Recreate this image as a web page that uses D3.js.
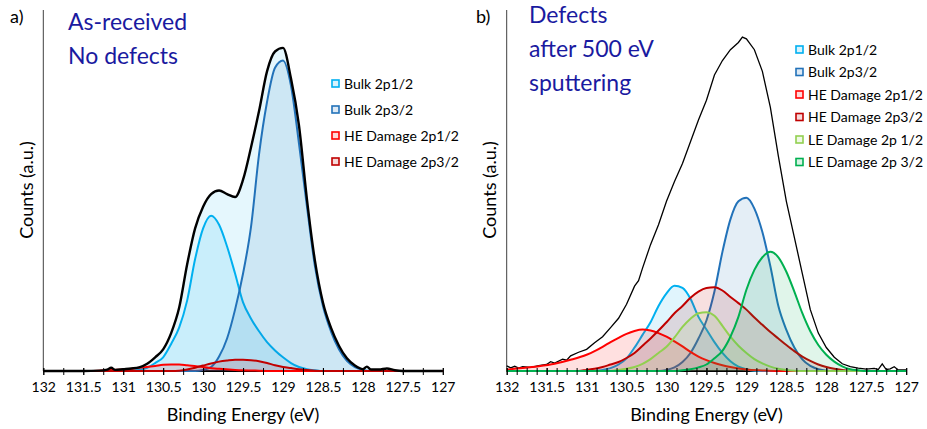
<!DOCTYPE html>
<html>
<head>
<meta charset="utf-8">
<script src="https://cdn.jsdelivr.net/npm/d3@7"></script>
<style>
  body { margin: 0; background: #fff; }
  svg { display: block; }
</style>
</head>
<body>
<div id="chart"></div>
<script>
// Binding energy ticks (eV), shared by both panels
const majorTicks = [132, 131.5, 131, 130.5, 130, 129.5, 129, 128.5, 128, 127.5, 127];
const tickLabels = ["132", "131.5", "131", "130.5", "130", "129.5", "129", "128.5", "128", "127.5", "127"];

// Panel a) As-received, [binding energy, counts (a.u., 0-100)]
const aEnvelope = [[132, 0], [131.5, 0], [131.3, 0.1], [131.2, 0.4], [131.15, 0.9], [131.1, 0.3], [131, 0.5], [130.9, 0.7], [130.8, 1.0], [130.7, 2], [130.6, 3.8], [130.5, 6], [130.4, 10.5], [130.3, 17.5], [130.2, 29.5], [130.1, 39.5], [130, 45.5], [129.9, 49], [129.8, 50], [129.7, 49], [129.6, 48.2], [129.5, 53], [129.4, 62], [129.3, 72], [129.2, 83], [129.1, 88.5], [129, 89.5], [128.9, 81], [128.8, 68], [128.7, 47.5], [128.6, 30.5], [128.5, 19], [128.4, 12], [128.3, 7], [128.2, 3.5], [128.1, 1.5], [128, 0.5], [127.95, 1.2], [127.9, 0.4], [127.8, 0.4], [127.7, 0.7], [127.6, 0.2], [127.5, 0], [127, 0]];
const aBulk12 = [[132, 0], [130.9, 0], [130.8, 0.4], [130.7, 0.9], [130.6, 2.2], [130.5, 3.8], [130.4, 7.5], [130.3, 12], [130.2, 19.5], [130.1, 31], [130, 39.5], [129.9, 43], [129.8, 40.5], [129.7, 34.5], [129.6, 27], [129.5, 19], [129.4, 14.5], [129.3, 11], [129.2, 8], [129.1, 5.7], [129, 3.8], [128.9, 2.2], [128.8, 1.1], [128.7, 0.5], [128.6, 0.2], [128.5, 0], [127, 0]];
const aBulk32 = [[132, 0], [130.1, 0], [130, 0.3], [129.9, 1.1], [129.8, 4], [129.7, 9], [129.6, 17], [129.5, 27], [129.4, 40], [129.3, 60], [129.2, 74.5], [129.1, 84], [129, 86], [128.9, 79], [128.8, 63], [128.7, 45.5], [128.6, 29], [128.5, 18], [128.4, 11], [128.3, 6], [128.2, 2.8], [128.1, 1.1], [128, 0.3], [127.9, 0], [127, 0]];
const aHE12 = [[132, 0], [131.4, 0], [131.2, 0.2], [131, 0.4], [130.8, 0.9], [130.6, 1.4], [130.5, 1.7], [130.4, 1.8], [130.3, 1.8], [130.2, 1.6], [130, 1.1], [129.8, 0.6], [129.6, 0.3], [129.3, 0.1], [129, 0], [127, 0]];
const aHE32 = [[132, 0], [130.4, 0], [130.3, 0.1], [130.2, 0.4], [130.1, 0.9], [130, 1.5], [129.9, 2.1], [129.8, 2.6], [129.7, 2.9], [129.6, 3.1], [129.5, 3.1], [129.4, 3.0], [129.3, 2.7], [129.2, 2.2], [129.1, 1.6], [129, 1.1], [128.9, 0.8], [128.8, 0.5], [128.7, 0.3], [128.6, 0.1], [128.5, 0], [127, 0]];

// Panel b) after 500 eV sputtering
const bEnvelope = [[132, 1.4], [131.95, 0.9], [131.9, 1.3], [131.85, 0.8], [131.8, 1.2], [131.7, 1.0], [131.6, 1.5], [131.5, 1.8], [131.45, 2.6], [131.4, 2.2], [131.3, 3.3], [131.25, 3.0], [131.2, 4.2], [131.1, 5.2], [131, 6], [130.9, 7.8], [130.8, 9.5], [130.7, 12], [130.6, 14.6], [130.5, 18.5], [130.4, 23.5], [130.35, 25], [130.3, 28.5], [130.2, 35], [130.1, 40.5], [130, 47], [129.9, 52.5], [129.8, 57.5], [129.7, 63.5], [129.6, 69.5], [129.5, 75], [129.4, 82], [129.3, 86], [129.2, 89], [129.1, 91], [129.05, 92.5], [129, 92], [128.9, 89], [128.8, 83], [128.7, 73], [128.6, 59.5], [128.5, 47], [128.4, 37], [128.3, 27], [128.2, 17], [128.1, 10.5], [128, 6.5], [127.9, 3.8], [127.8, 2], [127.7, 1.2], [127.6, 0.8], [127.5, 0.5], [127.4, 0.7], [127.35, 0.4], [127.3, 2], [127.25, 0.4], [127.2, 0.6], [127.15, 1.2], [127.1, 0.3], [127, 0.3]];
const bBulk12 = [[132, 0], [130.9, 0], [130.8, 0.3], [130.7, 0.8], [130.6, 1.8], [130.5, 3.5], [130.4, 6.5], [130.3, 10], [130.2, 13.5], [130.1, 18], [130, 21.5], [129.9, 23.6], [129.8, 23], [129.7, 20], [129.6, 15], [129.5, 11.5], [129.4, 8], [129.3, 5], [129.2, 2.7], [129.1, 1.2], [129, 0.5], [128.9, 0.1], [128.8, 0], [127, 0]];
const bBulk32 = [[132, 0], [130.1, 0], [130, 0.3], [129.9, 1], [129.8, 2.5], [129.7, 5], [129.6, 9], [129.5, 14], [129.4, 22], [129.3, 33], [129.2, 42], [129.1, 47], [129, 48], [128.9, 45], [128.8, 38.5], [128.7, 29], [128.6, 18], [128.5, 11.4], [128.4, 6.5], [128.3, 3.2], [128.2, 1.4], [128.1, 0.5], [128, 0.1], [127.9, 0], [127, 0]];
const bHE12 = [[132, 0.4], [131.8, 0.8], [131.6, 1.3], [131.4, 2], [131.2, 3.1], [131, 4.5], [130.9, 5.5], [130.8, 6.7], [130.7, 8], [130.6, 9.2], [130.5, 10.3], [130.4, 11.1], [130.3, 11.5], [130.2, 11.2], [130.1, 10.5], [130, 9.5], [129.9, 8.2], [129.8, 6.8], [129.7, 5.3], [129.6, 4], [129.5, 3], [129.4, 2.2], [129.3, 1.6], [129.2, 1.1], [129.1, 0.7], [129, 0.4], [128.8, 0.15], [128.6, 0], [127, 0]];
const bHE32 = [[132, 0], [131.1, 0], [131, 0.3], [130.9, 0.6], [130.8, 1.1], [130.7, 1.8], [130.6, 2.5], [130.5, 3.6], [130.4, 5], [130.3, 7], [130.2, 9], [130.1, 11.2], [130, 13.5], [129.9, 16], [129.8, 18], [129.7, 20.3], [129.6, 22], [129.5, 23], [129.4, 23.2], [129.3, 22.3], [129.2, 20.5], [129.1, 18.8], [129, 17], [128.9, 14.8], [128.8, 12.8], [128.7, 10.8], [128.6, 9], [128.5, 7.2], [128.4, 5.5], [128.3, 4], [128.2, 2.8], [128.1, 1.8], [128, 1.1], [127.9, 0.6], [127.8, 0.3], [127.7, 0.1], [127.6, 0], [127, 0]];
const bLE12 = [[132, 0], [130.7, 0], [130.6, 0.3], [130.5, 0.6], [130.4, 1.1], [130.3, 2], [130.2, 3.3], [130.1, 5], [130, 6.7], [129.9, 9.3], [129.8, 12.2], [129.7, 14.5], [129.6, 16], [129.5, 16.3], [129.4, 15.3], [129.3, 12.5], [129.2, 9.5], [129.1, 7], [129, 5], [128.9, 3.3], [128.8, 2.1], [128.7, 1.2], [128.6, 0.6], [128.5, 0.3], [128.4, 0.1], [128.3, 0], [127, 0]];
const bLE32 = [[132, 0], [129.9, 0], [129.8, 0.2], [129.7, 0.5], [129.6, 1], [129.5, 1.8], [129.4, 3.5], [129.3, 5.6], [129.2, 9.5], [129.1, 15], [129, 22.5], [128.9, 28], [128.8, 31.5], [128.7, 33], [128.6, 31.5], [128.5, 27.5], [128.4, 22], [128.3, 16], [128.2, 11], [128.1, 7.2], [128, 4.5], [127.9, 2.6], [127.8, 1.3], [127.7, 0.5], [127.6, 0.2], [127.5, 0], [127, 0]];

const colors = {
    bulk12: "#00B0F0",
    bulk32: "#2272B9",
    he12: "#FF0000",
    he32: "#C00000",
    le12: "#92D050",
    le32: "#00B050"
};

const font = "Lato, 'Open Sans', sans-serif";

const svg = d3.select("#chart").append("svg")
    .attr("width", 927)
    .attr("height", 429);

function drawPanel(cfg) {
    const width = 399.5, height = 361;
    const g = svg.append("g").attr("transform", `translate(${cfg.left},10)`);

    const x = d3.scaleLinear().domain([132, 127]).range([0, width]);
    const y = d3.scaleLinear().domain([0, 100]).range([height, 0]);

    const line = d3.line()
        .x(d => x(d[0]))
        .y(d => y(d[1]))
        .curve(d3.curveMonotoneX);
    const area = d3.area()
        .x(d => x(d[0]))
        .y0(height)
        .y1(d => y(d[1]))
        .curve(d3.curveMonotoneX);

    // y axis (no ticks) and x axis line
    g.append("line")
        .attr("x1", 0).attr("x2", 0)
        .attr("y1", 0).attr("y2", height)
        .attr("stroke", "#404040")
        .attr("stroke-width", 1);
    g.append("line")
        .attr("x1", 0).attr("x2", width)
        .attr("y1", height).attr("y2", height)
        .attr("stroke", "#000")
        .attr("stroke-width", 2.2);

    if (cfg.envelopeFill) {
        g.append("path")
            .datum(cfg.envelope)
            .attr("fill", colors.bulk12)
            .attr("fill-opacity", 0.1)
            .attr("d", area);
    } else {
        g.append("path")
            .datum(cfg.envelope)
            .attr("fill", "none")
            .attr("stroke", "#000")
            .attr("stroke-width", 1.3)
            .attr("d", d3.line().x(d => x(d[0])).y(d => y(d[1])));
    }

    cfg.series.forEach(s => {
        g.append("path")
            .datum(s.data)
            .attr("fill", s.color)
            .attr("fill-opacity", 0.12)
            .attr("d", area);
        g.append("path")
            .datum(s.data)
            .attr("fill", "none")
            .attr("stroke", s.color)
            .attr("stroke-width", 2)
            .attr("d", line);
    });

    if (cfg.envelopeFill) {
        g.append("path")
            .datum(cfg.envelope)
            .attr("fill", "none")
            .attr("stroke", "#000")
            .attr("stroke-width", 2.4)
            .attr("d", line);
    }

    // minor ticks
    const minor = g.append("g")
        .attr("transform", `translate(0,${height})`)
        .call(d3.axisBottom(x).tickValues(d3.range(127, 132.001, cfg.minorStep)).tickFormat("").tickSize(4));
    minor.select(".domain").remove();
    minor.selectAll("line").attr("y1", -3).attr("stroke", "#000");

    const xAxis = g.append("g")
        .attr("transform", `translate(0,${height})`)
        .call(d3.axisBottom(x)
            .tickValues(majorTicks)
            .tickFormat((d, i) => tickLabels[i])
            .tickSize(4)
            .tickPadding(7));
    xAxis.select(".domain").remove();
    xAxis.selectAll("line").attr("y1", -3).attr("stroke", "#000");
    xAxis.selectAll("text")
        .style("font-family", font)
        .style("font-size", "14px")
        .style("fill", "#000");

    // axis titles
    g.append("text")
        .attr("x", width / 2)
        .attr("y", 411)
        .attr("text-anchor", "middle")
        .style("font-family", font)
        .style("font-size", "18px")
        .text("Binding Energy (eV)");

    g.append("text")
        .attr("transform", `translate(${cfg.yTitleX},180) rotate(-90)`)
        .attr("text-anchor", "middle")
        .style("font-family", font)
        .style("font-size", "18px")
        .text("Counts (a.u.)");

    // panel letter
    svg.append("text")
        .attr("x", cfg.letterX)
        .attr("y", 23)
        .style("font-family", font)
        .style("font-size", "18px")
        .text(cfg.letter);

    // title lines
    cfg.title.forEach((t, i) => {
        svg.append("text")
            .attr("x", cfg.titleX)
            .attr("y", cfg.titleY + i * 34)
            .style("font-family", font)
            .style("font-size", "23px")
            .style("fill", "#1A1AA0")
            .text(t);
    });

    // legend
    const legend = svg.append("g")
        .attr("transform", `translate(${cfg.legendX},${cfg.legendY})`);
    cfg.series.forEach((s, i) => {
        const row = legend.append("g").attr("transform", `translate(0,${i * cfg.legendStep})`);
        row.append("rect")
            .attr("x", 0).attr("y", -4)
            .attr("width", 7).attr("height", 7)
            .attr("fill", s.color)
            .attr("fill-opacity", 0.15)
            .attr("stroke", s.color)
            .attr("stroke-width", 1.6);
        row.append("text")
            .attr("x", 12)
            .attr("y", 0)
            .attr("dy", "0.35em")
            .style("font-family", font)
            .style("font-size", "14px")
            .text(s.name);
    });
}

drawPanel({
    left: 43.3,
    envelope: aEnvelope,
    envelopeFill: true,
    minorStep: 0.25,
    yTitleX: -10,
    letter: "a)",
    letterX: 10,
    title: ["As-received", "No defects"],
    titleX: 68,
    titleY: 30,
    legendX: 332,
    legendY: 84,
    legendStep: 26,
    series: [
        { name: "Bulk 2p1/2", color: colors.bulk12, data: aBulk12 },
        { name: "Bulk 2p3/2", color: colors.bulk32, data: aBulk32 },
        { name: "HE Damage 2p1/2", color: colors.he12, data: aHE12 },
        { name: "HE Damage 2p3/2", color: colors.he32, data: aHE32 }
    ]
});

drawPanel({
    left: 506.7,
    envelope: bEnvelope,
    envelopeFill: false,
    minorStep: 0.125,
    yTitleX: -11,
    letter: "b)",
    letterX: 476,
    title: ["Defects", "after 500 eV", "sputtering"],
    titleX: 529,
    titleY: 23,
    legendX: 796,
    legendY: 50,
    legendStep: 22.5,
    series: [
        { name: "Bulk 2p1/2", color: colors.bulk12, data: bBulk12 },
        { name: "Bulk 2p3/2", color: colors.bulk32, data: bBulk32 },
        { name: "HE Damage 2p1/2", color: colors.he12, data: bHE12 },
        { name: "HE Damage 2p3/2", color: colors.he32, data: bHE32 },
        { name: "LE Damage 2p 1/2", color: colors.le12, data: bLE12 },
        { name: "LE Damage 2p 3/2", color: colors.le32, data: bLE32 }
    ]
});
</script>
</body>
</html>
